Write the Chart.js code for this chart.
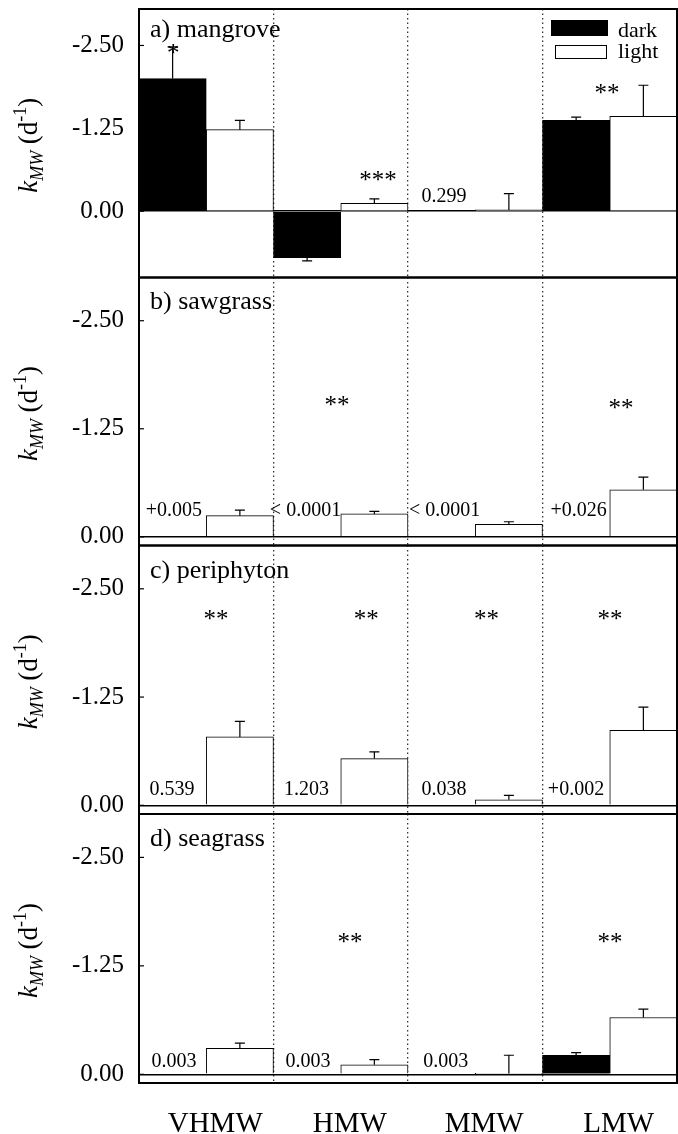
<!DOCTYPE html>
<html>
<head>
<meta charset="utf-8">
<script src="https://cdn.jsdelivr.net/npm/chart.js@4.4.0/dist/chart.umd.min.js"></script>
<style>
  body { margin: 0; background: #fff; }
  #wrap { position: relative; width: 678px; height: 1134px; }
  #wrap canvas { position: absolute; left: 0; top: 0; }
</style>
</head>
<body>
<div id="wrap"></div>
<script>
const categories = ['VHMW', 'HMW', 'MMW', 'LMW'];
const yTicks = [-2.5, -1.25, 0];
const panelTitles = ['a) mangrove', 'b) sawgrass', 'c) periphyton', 'd) seagrass'];

// k_MW (d^-1), dark / light incubations, with one-sided error bars
const darkMangrove = [-2.0, 0.70, null, -1.37];
const darkMangroveErr = [0.48, 0.05, null, 0.05];
const lightMangrove = [-1.23, -0.12, -0.02, -1.43];
const lightMangroveErr = [0.14, 0.065, 0.245, 0.47];

const darkSawgrass = [null, null, null, null];
const darkSawgrassErr = [null, null, null, null];
const lightSawgrass = [-0.245, -0.265, -0.145, -0.545];
const lightSawgrassErr = [0.065, 0.03, 0.03, 0.145];

const darkPeriphyton = [null, null, null, null];
const darkPeriphytonErr = [null, null, null, null];
const lightPeriphyton = [-0.79, -0.54, -0.065, -0.865];
const lightPeriphytonErr = [0.18, 0.077, 0.05, 0.27];

const darkSeagrass = [null, null, null, -0.22];
const darkSeagrassErr = [null, null, null, 0.03];
const lightSeagrass = [-0.30, -0.11, -0.01, -0.655];
const lightSeagrassErr = [0.06, 0.06, 0.21, 0.097];

const darkData = [darkMangrove, darkSawgrass, darkPeriphyton, darkSeagrass];
const darkErr = [darkMangroveErr, darkSawgrassErr, darkPeriphytonErr, darkSeagrassErr];
const lightData = [lightMangrove, lightSawgrass, lightPeriphyton, lightSeagrass];
const lightErr = [lightMangroveErr, lightSawgrassErr, lightPeriphytonErr, lightSeagrassErr];

const yRanges = [[-3.05, 1.0], [-3.0, 0.1], [-3.0, 0.1], [-3.0, 0.1]];

// text notes: [text, category, offset in category widths, y (baseline), font size]
const notes = [
  [['*', 0, -0.245, -2.27, 25], ['***', 1, 0.277, -0.356, 25], ['0.299', 2, -0.232, -0.143, 20], ['**', 3, -0.02, -1.665, 25]],
  [['**', 1, -0.028, -1.437, 25], ['**', 3, 0.084, -1.402, 25], ['+0.005', 0, -0.24, -0.237, 20],
   ['< 0.0001', 1, -0.262, -0.237, 20], ['< 0.0001', 2, -0.227, -0.237, 20], ['+0.026', 3, -0.232, -0.237, 20]],
  [['**', 0, 0.072, -2.057, 25], ['**', 1, 0.19, -2.057, 25], ['**', 2, 0.084, -2.057, 25], ['**', 3, 0.002, -2.057, 25],
   ['0.539', 0, -0.255, -0.12, 20], ['1.203', 1, -0.255, -0.12, 20], ['0.038', 2, -0.232, -0.12, 20], ['+0.002', 3, -0.251, -0.12, 20]],
  [['**', 1, 0.068, -1.437, 25], ['**', 3, 0.002, -1.437, 25], ['0.003', 0, -0.24, -0.087, 20],
   ['0.003', 1, -0.244, -0.087, 20], ['0.003', 2, -0.22, -0.087, 20]]
];

const W = 678, H = 1134;
const panelTop = [9, 277.5, 545.5, 814];
const panelBottom = [277.5, 545.5, 814, 1083];
const SERIF = 'Liberation Serif';

const decor = {
  id: 'decor',
  afterDatasetsDraw(chart, args, o) {
    const { ctx, chartArea: a, scales: { x, y } } = chart;
    ctx.save();
    ctx.strokeStyle = '#000';
    ctx.lineWidth = 1.2;
    // error bars
    chart.data.datasets.forEach((ds, di) => {
      const meta = chart.getDatasetMeta(di);
      ds.data.forEach((v, i) => {
        const e = ds.errors[i];
        if (v == null || e == null) return;
        const bx = meta.data[i].x;
        const y0 = y.getPixelForValue(v);
        const y1 = y.getPixelForValue(v <= 0 ? v - e : v + e);
        ctx.beginPath();
        ctx.moveTo(bx, y0); ctx.lineTo(bx, y1);
        ctx.moveTo(bx - 5, y1); ctx.lineTo(bx + 5, y1);
        ctx.stroke();
      });
    });
    // notes
    const cw = x.width / categories.length;
    ctx.fillStyle = '#000';
    ctx.textAlign = 'center';
    ctx.textBaseline = 'alphabetic';
    notes[o.panel].forEach(([t, i, dx, v, size]) => {
      ctx.font = size + 'px "' + SERIF + '"';
      ctx.fillText(t, x.getPixelForValue(i) + dx * cw, y.getPixelForValue(v));
    });
    // panel title
    ctx.textAlign = 'left';
    ctx.font = '26px "' + SERIF + '"';
    ctx.fillText(panelTitles[o.panel], a.left + 11, y.getPixelForValue(-2.63));
    // legend (first panel)
    if (o.panel === 0) {
      const r = a.right, t = a.top;
      ctx.fillStyle = '#000';
      ctx.fillRect(r - 126, t + 11, 57, 16);
      ctx.fillStyle = '#fff';
      ctx.fillRect(r - 122, t + 36, 51, 14);
      ctx.lineWidth = 1;
      ctx.strokeRect(r - 121.5, t + 36.5, 51, 13);
      ctx.fillStyle = '#000';
      ctx.font = '22px "' + SERIF + '"';
      ctx.fillText(chart.data.datasets[0].label, r - 59, t + 27.5);
      ctx.fillText(chart.data.datasets[1].label, r - 59, t + 49);
    }
    // frame and inner ticks
    ctx.lineWidth = 2;
    ctx.strokeRect(a.left, a.top, a.width, a.height);
    ctx.lineWidth = 1.2;
    yTicks.forEach(v => {
      const py = y.getPixelForValue(v);
      ctx.beginPath(); ctx.moveTo(a.left, py); ctx.lineTo(a.left + 5, py); ctx.stroke();
    });
    ctx.restore();
  },
  afterDraw(chart) {
    // rotated y title: k_MW (d^-1)
    const { ctx, chartArea: a } = chart;
    const parts = [
      ['k', 'italic 27px', 0], ['MW', 'italic 18px', 6], [' (d', '27px', 0], ['-1', '18px', -11], [')', '27px', 0]
    ];
    ctx.save();
    ctx.fillStyle = '#000';
    ctx.textBaseline = 'alphabetic';
    ctx.textAlign = 'left';
    let total = 0;
    parts.forEach(p => { ctx.font = p[1] + ' "' + SERIF + '"'; total += ctx.measureText(p[0]).width; });
    ctx.translate(36.5, (a.top + a.bottom) / 2 + 2);
    ctx.rotate(-Math.PI / 2);
    let cx = -total / 2;
    parts.forEach(p => {
      ctx.font = p[1] + ' "' + SERIF + '"';
      ctx.fillText(p[0], cx, p[2]);
      cx += ctx.measureText(p[0]).width;
    });
    ctx.restore();
  }
};

const wrap = document.getElementById('wrap');

for (let p = 0; p < 4; p++) {
  const canvas = document.createElement('canvas');
  canvas.width = W;
  canvas.height = H;
  wrap.appendChild(canvas);
  const last = p === 3;

  new Chart(canvas, {
    type: 'bar',
    data: {
      labels: categories,
      datasets: [
        { label: 'dark', data: darkData[p], errors: darkErr[p], backgroundColor: '#000', borderColor: '#000', borderWidth: 1 },
        { label: 'light', data: lightData[p], errors: lightErr[p], backgroundColor: '#fff', borderColor: '#000', borderWidth: 1 }
      ]
    },
    options: {
      responsive: false,
      animation: false,
      events: [],
      categoryPercentage: 1,
      barPercentage: 1,
      layout: { padding: { top: panelTop[p], bottom: H - panelBottom[p] - (last ? 51 : 0), left: 0, right: 1 } },
      plugins: {
        legend: { display: false },
        tooltip: { enabled: false },
        decor: { panel: p }
      },
      scales: {
        x: {
          grid: { color: '#333', lineWidth: 1.3, drawTicks: false },
          border: { display: false, dash: [1.5, 3] },
          ticks: {
            display: last,
            color: '#000',
            font: { family: SERIF, size: 29 },
            padding: 24,
            labelOffset: 9,
            maxRotation: 0
          },
          afterFit: s => {
            s.height = last ? 51 : 0;
            s.paddingLeft = 0; s.paddingRight = 0;
          }
        },
        y: {
          reverse: true,
          min: yRanges[p][0],
          max: yRanges[p][1],
          afterBuildTicks: s => { s.ticks = yTicks.map(v => ({ value: v })); },
          grid: {
            color: c => (c.tick && c.tick.value === 0 ? '#000' : 'rgba(0,0,0,0)'),
            lineWidth: 1.5,
            drawTicks: false
          },
          border: { display: false },
          ticks: {
            color: '#000',
            font: { family: SERIF, size: 25 },
            padding: 15,
            callback: v => v.toFixed(2)
          },
          afterFit: s => {
            s.width = 139;
            s.paddingTop = 0; s.paddingBottom = 0;
          }
        }
      }
    },
    plugins: [decor]
  });
}
</script>
</body>
</html>
